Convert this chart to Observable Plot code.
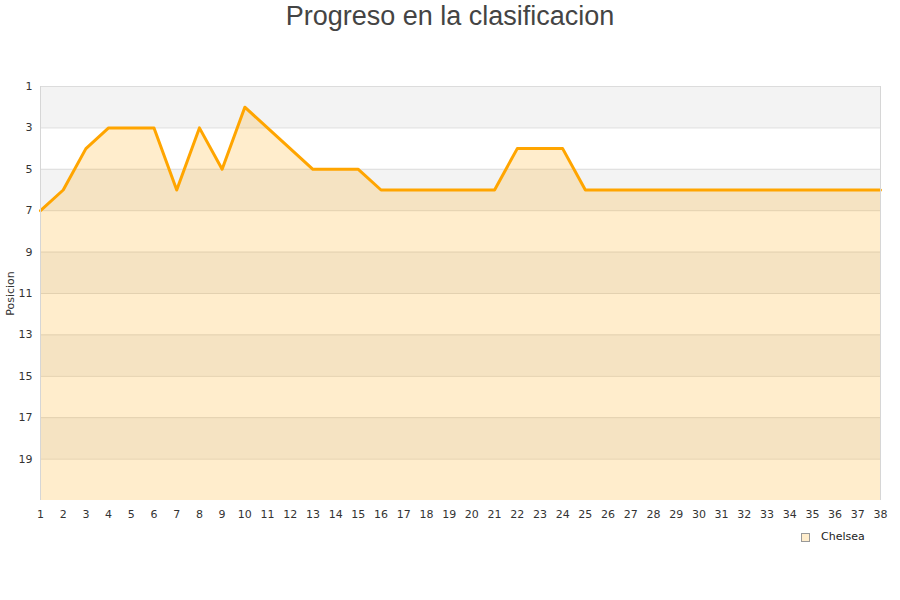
<!DOCTYPE html>
<html>
<head>
<meta charset="utf-8">
<script src="https://cdn.jsdelivr.net/npm/d3@7"></script>
<script src="https://cdn.jsdelivr.net/npm/@observablehq/plot@0.6"></script>
<style>
  html, body { margin: 0; padding: 0; background: #fff; }
  #wrap { position: relative; width: 900px; height: 600px; }
  #title {
    position: absolute; left: 0; top: 0; width: 900px; text-align: center;
    font-family: "Liberation Sans", Arial, sans-serif; font-size: 27px; color: #444;
    line-height: 32px;
  }
  #chart { position: absolute; left: 0; top: 0; }
  #legend {
    position: absolute; left: 801px; top: 530px;
    font-family: "DejaVu Sans", sans-serif; font-size: 11px; color: #222;
    display: flex; align-items: center;
  }
  #legend .sw {
    width: 7px; height: 7px; background: #ffedcc; border: 1px solid #999;
    margin-right: 11px; margin-top: 1px;
  }
</style>
</head>
<body>
<div id="wrap">
  <div id="chart"></div>
  <div id="title">Progreso en la clasificacion</div>
  <div id="legend"><span class="sw"></span><span>Chelsea</span></div>
</div>
<script>
// Jornadas 1..38 and Chelsea's league position after each one
const jornadas = d3.range(1, 39);
const posiciones = [7, 6, 4, 3, 3, 3, 6, 3, 5, 2, 3, 4, 5, 5, 5, 6, 6, 6, 6, 6, 6, 4, 4, 4, 6, 6, 6, 6, 6, 6, 6, 6, 6, 6, 6, 6, 6, 6];
const yTicks = [1, 3, 5, 7, 9, 11, 13, 15, 17, 19];
const bandStarts = [1, 5, 9, 13, 17];
const primeraJornada = 1;
const ultimaJornada = 38;
const ultimaPosicion = 21;

const data = jornadas.map((j, i) => ({jornada: j, posicion: posiciones[i]}));

const chart = Plot.plot({
  width: 900,
  height: 600,
  marginLeft: 40,
  marginRight: 20,
  marginTop: 86,
  marginBottom: 100,
  style: {fontFamily: "'DejaVu Sans', sans-serif", fontSize: "11px", color: "#333", background: "transparent"},
  x: {domain: [primeraJornada, ultimaJornada], label: null},
  y: {domain: [ultimaPosicion, 1], label: null},
  marks: [
    // alternating horizontal bands
    Plot.rect(bandStarts, {x1: () => primeraJornada, x2: () => ultimaJornada, y1: d => d, y2: d => d + 2, fill: "#f3f3f3"}),
    Plot.ruleY(yTicks, {stroke: "#dcdcdc"}),
    Plot.areaY(data, {x: "jornada", y1: () => ultimaPosicion, y2: "posicion", fill: "#ffa500", fillOpacity: 0.2}),
    Plot.line(data, {x: "jornada", y: "posicion", stroke: "#ffa500", strokeWidth: 3}),
    Plot.ruleX([primeraJornada, ultimaJornada], {stroke: "#d6d6d6"}),
    Plot.axisX({ticks: jornadas, tickFormat: d => d, tickSize: 0, tickPadding: 10, label: null}),
    Plot.axisY({ticks: yTicks, tickSize: 0, tickPadding: 8, label: null}),
    Plot.text(["Posicion"], {frameAnchor: "left", dx: -30, rotate: -90, textAnchor: "middle", fontSize: 11, fill: "#333"})
  ]
});
document.getElementById("chart").appendChild(chart);
</script>
</body>
</html>
